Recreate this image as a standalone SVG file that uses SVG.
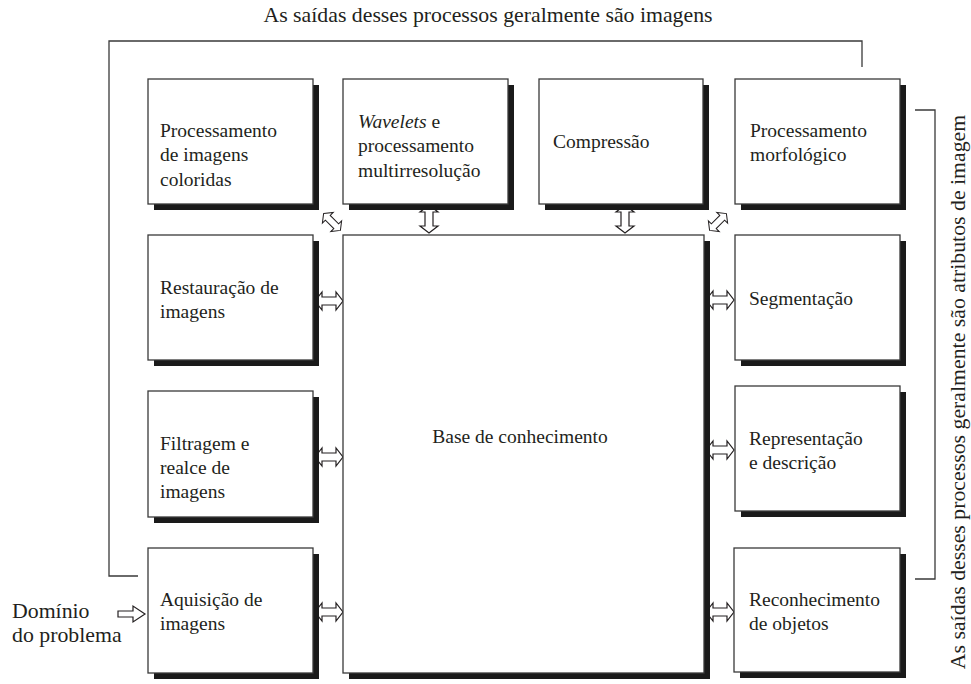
<svg xmlns="http://www.w3.org/2000/svg" width="971" height="684" viewBox="0 0 971 684">
<style>
  .shadow { fill: #1a1a1a; }
  .box { fill: #ffffff; stroke: #3a3a3a; stroke-width: 1.3; }
  .lbl { font-family: 'Liberation Serif', 'Times New Roman', serif; font-size: 19.5px; fill: #231f20; }
  .big { font-family: 'Liberation Serif', 'Times New Roman', serif; font-size: 21.8px; fill: #231f20; }
  .line { fill: none; stroke: #3a3a3a; stroke-width: 1.3; }
  .arr { fill: #ffffff; stroke: #231f20; stroke-width: 1.2; stroke-linejoin: miter; }
</style>
<defs>
  <polygon id="dbl" points="-14,0 -7,-9 -7,-4 7,-4 7,-9 14,0 7,9 7,4 -7,4 -7,9"/>
</defs>
<rect width="971" height="684" fill="#ffffff"/>

<text class="big" x="488" y="22" text-anchor="middle">As saídas desses processos geralmente são imagens</text>
<text class="big" transform="translate(965,392) rotate(-90)" text-anchor="middle">As saídas desses processos geralmente são atributos de imagem</text>

<g id="connectors">
  <polyline class="line" points="138,576 109,576 109,41 862,41 862,67"/>
  <polyline class="line" points="915,110 935,110 935,579 915,579"/>
  <polygon class="arr" points="118,611 133,611 133,606 145,614 133,622 133,617 118,617"/>
  <use href="#dbl" class="arr" transform="translate(329,301)"/>
  <use href="#dbl" class="arr" transform="translate(329,457)"/>
  <use href="#dbl" class="arr" transform="translate(329,612)"/>
  <use href="#dbl" class="arr" transform="translate(720,300)"/>
  <use href="#dbl" class="arr" transform="translate(720,450)"/>
  <use href="#dbl" class="arr" transform="translate(720,612)"/>
  <use href="#dbl" class="arr" transform="translate(429,219) rotate(90)"/>
  <use href="#dbl" class="arr" transform="translate(625,219) rotate(90)"/>
  <use href="#dbl" class="arr" transform="translate(332,222) rotate(45) scale(0.85)"/>
  <use href="#dbl" class="arr" transform="translate(718,222) rotate(-45) scale(0.85)"/>
</g>

<g id="dominio">
  <text class="big" x="12" y="618" font-size="22px">Domínio</text>
  <text class="big" x="12" y="642" font-size="22px">do problema</text>
</g>

<g id="cores">
  <rect class="shadow" x="154" y="85" width="165" height="125"/>
  <rect class="box" x="148" y="79" width="165" height="125"/>
  <text class="lbl" x="160" y="137">Processamento</text>
  <text class="lbl" x="160" y="161">de imagens</text>
  <text class="lbl" x="160" y="186">coloridas</text>
</g>

<g id="wavelets">
  <rect class="shadow" x="349" y="85" width="165" height="125"/>
  <rect class="box" x="343" y="79" width="165" height="125"/>
  <text class="lbl" x="358" y="128"><tspan font-style="italic">Wavelets</tspan> e</text>
  <text class="lbl" x="358" y="152">processamento</text>
  <text class="lbl" x="358" y="177">multirresolução</text>
</g>

<g id="compressao">
  <rect class="shadow" x="545" y="85" width="164" height="125"/>
  <rect class="box" x="539" y="79" width="164" height="125"/>
  <text class="lbl" x="553" y="148">Compressão</text>
</g>

<g id="morfologico">
  <rect class="shadow" x="741" y="85" width="165" height="125"/>
  <rect class="box" x="735" y="79" width="165" height="125"/>
  <text class="lbl" x="750" y="137">Processamento</text>
  <text class="lbl" x="750" y="161">morfológico</text>
</g>

<g id="restauracao">
  <rect class="shadow" x="154" y="241" width="165" height="125"/>
  <rect class="box" x="148" y="235" width="165" height="125"/>
  <text class="lbl" x="160" y="294">Restauração de</text>
  <text class="lbl" x="160" y="318">imagens</text>
</g>

<g id="filtragem">
  <rect class="shadow" x="154" y="397" width="165" height="126"/>
  <rect class="box" x="148" y="391" width="165" height="126"/>
  <text class="lbl" x="160" y="450">Filtragem e</text>
  <text class="lbl" x="160" y="474">realce de</text>
  <text class="lbl" x="160" y="498">imagens</text>
</g>

<g id="aquisicao">
  <rect class="shadow" x="154" y="554" width="165" height="125"/>
  <rect class="box" x="148" y="548" width="165" height="125"/>
  <text class="lbl" x="160" y="606">Aquisição de</text>
  <text class="lbl" x="160" y="630">imagens</text>
</g>

<g id="base">
  <rect class="shadow" x="349" y="241" width="361" height="438"/>
  <rect class="box" x="343" y="235" width="361" height="438"/>
  <text class="lbl" x="520" y="443" text-anchor="middle">Base de conhecimento</text>
</g>

<g id="segmentacao">
  <rect class="shadow" x="741" y="241" width="165" height="125"/>
  <rect class="box" x="735" y="235" width="165" height="125"/>
  <text class="lbl" x="749" y="305">Segmentação</text>
</g>

<g id="representacao">
  <rect class="shadow" x="741" y="392" width="165" height="125"/>
  <rect class="box" x="735" y="386" width="165" height="125"/>
  <text class="lbl" x="749" y="445">Representação</text>
  <text class="lbl" x="749" y="469">e descrição</text>
</g>

<g id="reconhecimento">
  <rect class="shadow" x="740" y="554" width="166" height="124"/>
  <rect class="box" x="734" y="548" width="166" height="124"/>
  <text class="lbl" x="749" y="606">Reconhecimento</text>
  <text class="lbl" x="749" y="630">de objetos</text>
</g>
</svg>
